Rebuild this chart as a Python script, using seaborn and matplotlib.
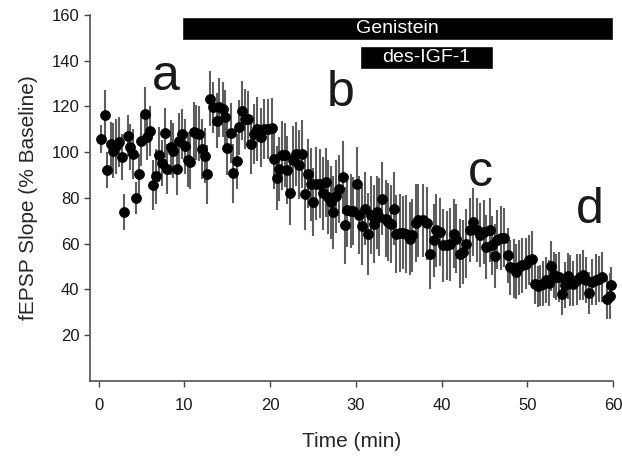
import matplotlib
matplotlib.use("Agg")
import matplotlib.pyplot as plt
import seaborn as sns
import pandas as pd

# time points (min), mean fEPSP slope (% baseline) and SEM
time_min = [
    0.3, 0.7, 1.0, 1.4, 1.7, 2.0, 2.4, 2.7, 3.0, 3.4,
    3.7, 4.0, 4.4, 4.7, 5.0, 5.4, 5.7, 6.0, 6.3, 6.7,
    7.0, 7.4, 7.7, 8.0, 8.4, 8.7, 9.1, 9.4, 9.7, 10.1,
    10.4, 10.7, 11.1, 11.4, 11.7, 12.1, 12.4, 12.7, 13.0, 13.4,
    13.8, 14.1, 14.5, 14.8, 15.0, 15.4, 15.7, 16.1, 16.4, 16.7,
    17.1, 17.4, 17.8, 18.1, 18.5, 18.9, 19.3, 19.8, 20.2, 20.5,
    20.8, 21.1, 21.4, 21.7, 22.0, 22.3, 22.7, 23.0, 23.4, 23.7,
    24.1, 24.4, 24.8, 25.0, 25.4, 25.8, 26.2, 26.5, 26.8, 27.1,
    27.4, 27.7, 28.1, 28.5, 28.7, 29.0, 29.4, 29.7, 30.1, 30.4,
    30.7, 31.1, 31.4, 31.8, 32.1, 32.5, 32.7, 33.1, 33.5, 33.8,
    34.1, 34.5, 34.7, 35.1, 35.5, 35.8, 36.3, 36.6, 37.0, 37.3,
    37.8, 38.3, 38.7, 39.1, 39.4, 39.8, 40.2, 40.6, 41.0, 41.4,
    41.7, 42.1, 42.5, 42.9, 43.3, 43.7, 44.1, 44.5, 44.9, 45.2,
    45.6, 45.9, 46.2, 46.5, 46.9, 47.3, 47.7, 48.0, 48.4, 48.7,
    49.0, 49.4, 49.8, 50.2, 50.5, 50.9, 51.2, 51.5, 51.8, 52.2,
    52.5, 52.8, 53.1, 53.4, 53.7, 54.1, 54.4, 54.8, 55.0, 55.3,
    55.8, 56.1, 56.5, 56.9, 57.2, 57.6, 58.0, 58.4, 58.7, 59.3, 59.6, 59.8,
]
slope_mean = [
    105.8, 116.3, 92.3, 103.4, 100.7, 102.6, 104.4, 97.8, 73.8, 107.3,
    102.2, 99.3, 80.1, 90.3, 105.1, 116.7, 106.5, 109.2, 85.8, 89.5,
    99.0, 95.2, 108.5, 92.8, 102.2, 100.7, 92.5, 105.1, 108.0, 102.6,
    96.7, 95.9, 109.0, 108.5, 108.0, 101.5, 98.4, 90.3, 123.3, 119.6,
    113.8, 119.6, 118.8, 115.3, 101.9, 108.5, 90.8, 96.1, 110.9, 118.2,
    114.6, 114.6, 103.4, 108.0, 110.2, 106.5, 110.2, 110.2, 110.5, 97.1,
    88.8, 92.8, 98.6, 98.6, 92.3, 82.1, 96.4, 99.3, 94.6, 99.3,
    81.8, 90.6, 85.9, 78.2, 86.2, 86.2, 82.1, 86.9, 80.4, 78.2,
    73.8, 80.7, 84.0, 89.1, 68.0, 74.6, 74.3, 74.3, 86.2, 72.4,
    67.9, 75.3, 64.4, 72.4, 68.5, 73.8, 71.6, 79.7, 71.0, 69.5,
    68.5, 75.3, 64.4, 64.8, 64.8, 64.4, 62.2, 63.7, 69.0, 70.2,
    70.2, 69.0, 55.4, 61.5, 65.9, 65.1, 59.3, 59.3, 59.7, 64.4,
    62.2, 55.7, 56.4, 60.0, 65.9, 69.5, 65.9, 64.0, 65.1, 58.6,
    65.9, 59.3, 54.7, 61.8, 62.7, 62.7, 55.0, 49.8, 49.2, 47.7,
    49.8, 50.6, 51.3, 52.8, 53.5, 42.6, 41.4, 41.9, 42.6, 44.0,
    43.0, 50.3, 46.2, 45.5, 45.5, 37.9, 41.9, 45.9, 44.0, 42.6,
    44.3, 45.5, 46.2, 44.0, 38.5, 43.3, 44.3, 44.7, 45.5, 36.0, 37.1, 41.9,
]
slope_sem = [
    6, 11, 8, 10, 12, 12, 11, 10, 8, 9,
    10, 11, 7, 9, 11, 12, 10, 11, 11, 12,
    12, 10, 11, 11, 12, 12, 11, 12, 11, 12,
    12, 12, 13, 12, 12, 13, 12, 13, 12, 11,
    12, 13, 12, 12, 12, 13, 13, 12, 12, 13,
    13, 12, 13, 13, 14, 13, 13, 13, 13, 13,
    14, 14, 15, 14, 15, 14, 15, 14, 15, 15,
    16, 15, 16, 15, 16, 15, 16, 15, 16, 16,
    16, 16, 15, 16, 17, 16, 16, 15, 16, 17,
    17, 16, 18, 17, 17, 16, 17, 16, 17, 17,
    17, 16, 17, 17, 16, 17, 16, 16, 17, 16,
    16, 16, 15, 16, 16, 15, 16, 15, 16, 15,
    15, 15, 14, 15, 14, 15, 14, 14, 14, 14,
    14, 13, 14, 13, 14, 13, 12, 12, 13, 12,
    12, 12, 11, 11, 12, 9, 9, 9, 10, 10,
    10, 11, 10, 10, 11, 9, 10, 10, 11, 10,
    11, 10, 11, 10, 9, 10, 11, 10, 11, 9, 10, 8,
]

# drug application periods (start, end in min)
treatments = ["Genistein", "des-IGF-1"]
treat_start = [9.7, 30.5]
treat_end = [60.0, 46.0]

# letters marking sample traces
trace_labels = ["a", "b", "c", "d"]
trace_time = [7.8, 28.2, 44.5, 57.3]
trace_level = [133, 126, 91, 74.6]

df = pd.DataFrame({"time": time_min, "slope": slope_mean, "sem": slope_sem})

sns.set_style("ticks")
plt.rcParams["font.family"] = ["Liberation Sans", "DejaVu Sans"]

fig = plt.figure(figsize=(6.22, 4.57), dpi=100)
ax = fig.add_axes([0.1447, 0.1663, 0.8408, 0.8009])

# error bars then filled circles
ax.errorbar(df["time"], df["slope"], yerr=df["sem"], fmt="none",
            ecolor="#5e5e5e", elinewidth=1.5, capsize=0, zorder=2)
sns.scatterplot(data=df, x="time", y="slope", color="black", s=52,
                edgecolor="black", linewidth=0.5, ax=ax, zorder=3, clip_on=False)

# treatment bars
bar_y = [154, 141.5]
for name, s, e, y in zip(treatments, treat_start, treat_end, bar_y):
    ax.barh(y, e - s, left=s, height=10, color="black", zorder=4)
    ax.text((s + e) / 2, y, name, color="white", fontsize=14,
            ha="center", va="center", zorder=5)

for lab, t, lv in zip(trace_labels, trace_time, trace_level):
    ax.text(t, lv, lab, fontsize=36, ha="center", va="center", color="#1a1a1a")

ax.set_xlim(-1, 60)
ax.set_ylim(0, 160)
ax.set_xticks([0, 10, 20, 30, 40, 50, 60])
ax.set_yticks([20, 40, 60, 80, 100, 120, 140, 160])
ax.set_xlabel("Time (min)", fontsize=15, labelpad=14)
ax.set_ylabel("fEPSP Slope (% Baseline)", fontsize=15, labelpad=10)
ax.tick_params(axis="both", labelsize=12, length=4, width=1, color="#444444",
               labelcolor="#1a1a1a", direction="out")
ax.tick_params(axis="x", pad=8)
sns.despine(ax=ax)
for sp in ["left", "bottom"]:
    ax.spines[sp].set_color("#444444")
    ax.spines[sp].set_linewidth(1.1)

fig.savefig("out.png", dpi=100)
